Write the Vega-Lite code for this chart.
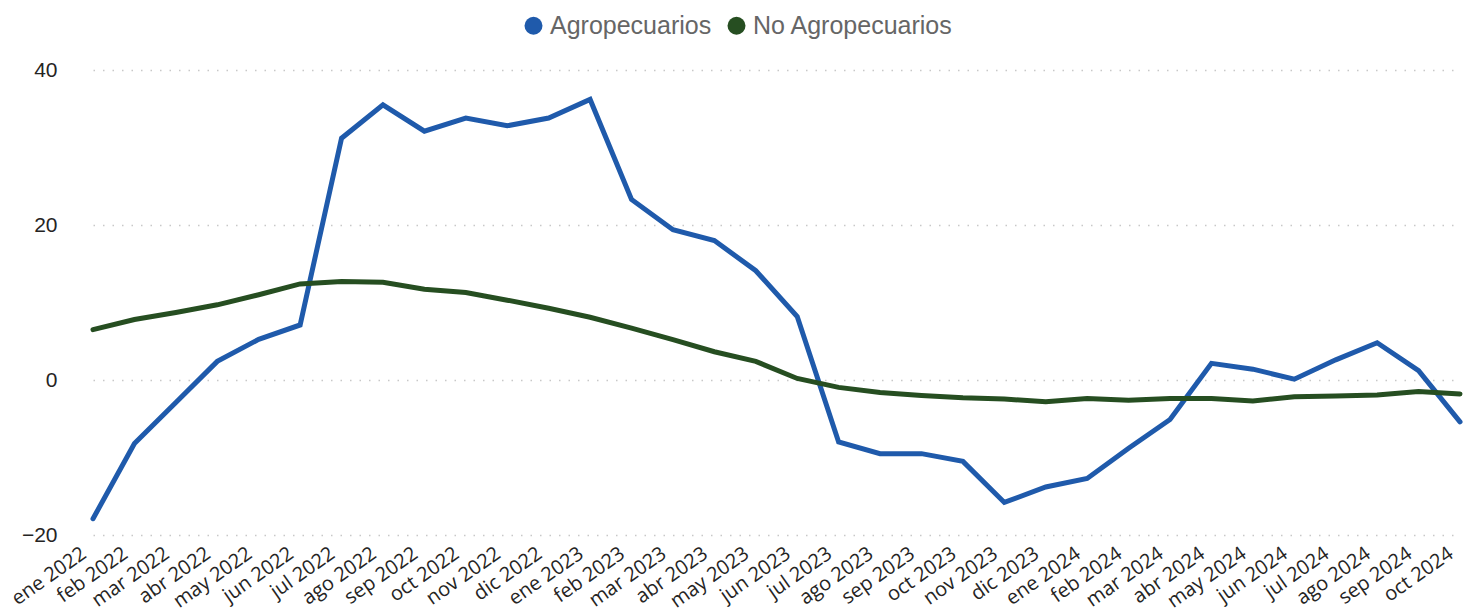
{
  "$schema": "https://vega.github.io/schema/vega-lite/v6.json",
  "width": 1395,
  "height": 465,
  "autosize": {"type": "none"},
  "padding": {"left": 75, "top": 70, "right": 0, "bottom": 73},
  "background": "white",
  "config": {"view": {"stroke": null}},
  "datasets": {
    "agro": [
      {"mes": "ene 2022", "Agropecuarios": -17.9, "No Agropecuarios": 6.5},
      {"mes": "feb 2022", "Agropecuarios": -8.2, "No Agropecuarios": 7.8},
      {"mes": "mar 2022", "Agropecuarios": -2.9, "No Agropecuarios": 8.7},
      {"mes": "abr 2022", "Agropecuarios": 2.4, "No Agropecuarios": 9.7},
      {"mes": "may 2022", "Agropecuarios": 5.25, "No Agropecuarios": 11.0},
      {"mes": "jun 2022", "Agropecuarios": 7.1, "No Agropecuarios": 12.4},
      {"mes": "jul 2022", "Agropecuarios": 31.2, "No Agropecuarios": 12.7},
      {"mes": "ago 2022", "Agropecuarios": 35.5, "No Agropecuarios": 12.6},
      {"mes": "sep 2022", "Agropecuarios": 32.1, "No Agropecuarios": 11.7},
      {"mes": "oct 2022", "Agropecuarios": 33.8, "No Agropecuarios": 11.3},
      {"mes": "nov 2022", "Agropecuarios": 32.8, "No Agropecuarios": 10.3},
      {"mes": "dic 2022", "Agropecuarios": 33.8, "No Agropecuarios": 9.25},
      {"mes": "ene 2023", "Agropecuarios": 36.2, "No Agropecuarios": 8.1},
      {"mes": "feb 2023", "Agropecuarios": 23.3, "No Agropecuarios": 6.7},
      {"mes": "mar 2023", "Agropecuarios": 19.4, "No Agropecuarios": 5.2},
      {"mes": "abr 2023", "Agropecuarios": 18.0, "No Agropecuarios": 3.65},
      {"mes": "may 2023", "Agropecuarios": 14.1, "No Agropecuarios": 2.4},
      {"mes": "jun 2023", "Agropecuarios": 8.2, "No Agropecuarios": 0.2},
      {"mes": "jul 2023", "Agropecuarios": -8.0, "No Agropecuarios": -0.95},
      {"mes": "ago 2023", "Agropecuarios": -9.5, "No Agropecuarios": -1.6},
      {"mes": "sep 2023", "Agropecuarios": -9.5, "No Agropecuarios": -2.0},
      {"mes": "oct 2023", "Agropecuarios": -10.5, "No Agropecuarios": -2.3},
      {"mes": "nov 2023", "Agropecuarios": -15.8, "No Agropecuarios": -2.45},
      {"mes": "dic 2023", "Agropecuarios": -13.8, "No Agropecuarios": -2.8},
      {"mes": "ene 2024", "Agropecuarios": -12.7, "No Agropecuarios": -2.4},
      {"mes": "feb 2024", "Agropecuarios": -8.8, "No Agropecuarios": -2.6},
      {"mes": "mar 2024", "Agropecuarios": -5.1, "No Agropecuarios": -2.4},
      {"mes": "abr 2024", "Agropecuarios": 2.15, "No Agropecuarios": -2.4},
      {"mes": "may 2024", "Agropecuarios": 1.4, "No Agropecuarios": -2.7},
      {"mes": "jun 2024", "Agropecuarios": 0.1, "No Agropecuarios": -2.15},
      {"mes": "jul 2024", "Agropecuarios": 2.6, "No Agropecuarios": -2.05},
      {"mes": "ago 2024", "Agropecuarios": 4.8, "No Agropecuarios": -1.95},
      {"mes": "sep 2024", "Agropecuarios": 1.2, "No Agropecuarios": -1.5},
      {"mes": "oct 2024", "Agropecuarios": -5.4, "No Agropecuarios": -1.8}
    ]
  },
  "data": {"name": "agro"},
  "transform": [
    {"fold": ["Agropecuarios", "No Agropecuarios"], "as": ["serie", "valor"]}
  ],
  "mark": {"type": "line", "strokeWidth": 5, "strokeJoin": "miter", "strokeCap": "round"},
  "encoding": {
    "x": {
      "field": "mes",
      "type": "ordinal",
      "sort": null,
      "scale": {"type": "point", "range": [18, 1385], "padding": 0},
      "axis": {
        "title": null,
        "domain": false,
        "ticks": false,
        "grid": false,
        "labelAngle": -35,
        "labelAlign": "right",
        "labelBaseline": "top",
        "labelOffset": -15,
        "labelPadding": 8,
        "labelFont": "Open Sans",
        "labelFontSize": 20,
        "labelColor": "#252423",
        "labelOverlap": false,
        "labelBound": false
      }
    },
    "y": {
      "field": "valor",
      "type": "quantitative",
      "scale": {"domain": [-20, 40], "nice": false, "zero": false},
      "axis": {
        "title": null,
        "values": [-20, 0, 20, 40],
        "domain": false,
        "ticks": false,
        "grid": true,
        "gridColor": "#c8c8c8",
        "gridDash": [1.5, 8],
        "gridWidth": 1.5,
        "labelPadding": 18,
        "labelFont": "Liberation Sans",
        "labelFontSize": 21,
        "labelColor": "#252423"
      }
    },
    "color": {
      "field": "serie",
      "type": "nominal",
      "scale": {"domain": ["Agropecuarios", "No Agropecuarios"], "range": ["#1f5aab", "#264e21"]},
      "legend": {
        "title": null,
        "orient": "none",
        "direction": "horizontal",
        "legendX": 446,
        "legendY": -57,
        "padding": 0,
        "symbolType": "circle",
        "symbolSize": 324,
        "symbolStrokeWidth": 0,
        "labelFont": "Liberation Sans",
        "labelFontSize": 25,
        "labelColor": "#666666",
        "labelOffset": 4,
        "columnPadding": 12,
        "labelLimit": 400,
        "encode": {
          "symbols": {
            "update": {
              "fill": {"scale": "color", "field": "value"},
              "fillOpacity": {"value": 1}
            }
          }
        }
      }
    }
  }
}
